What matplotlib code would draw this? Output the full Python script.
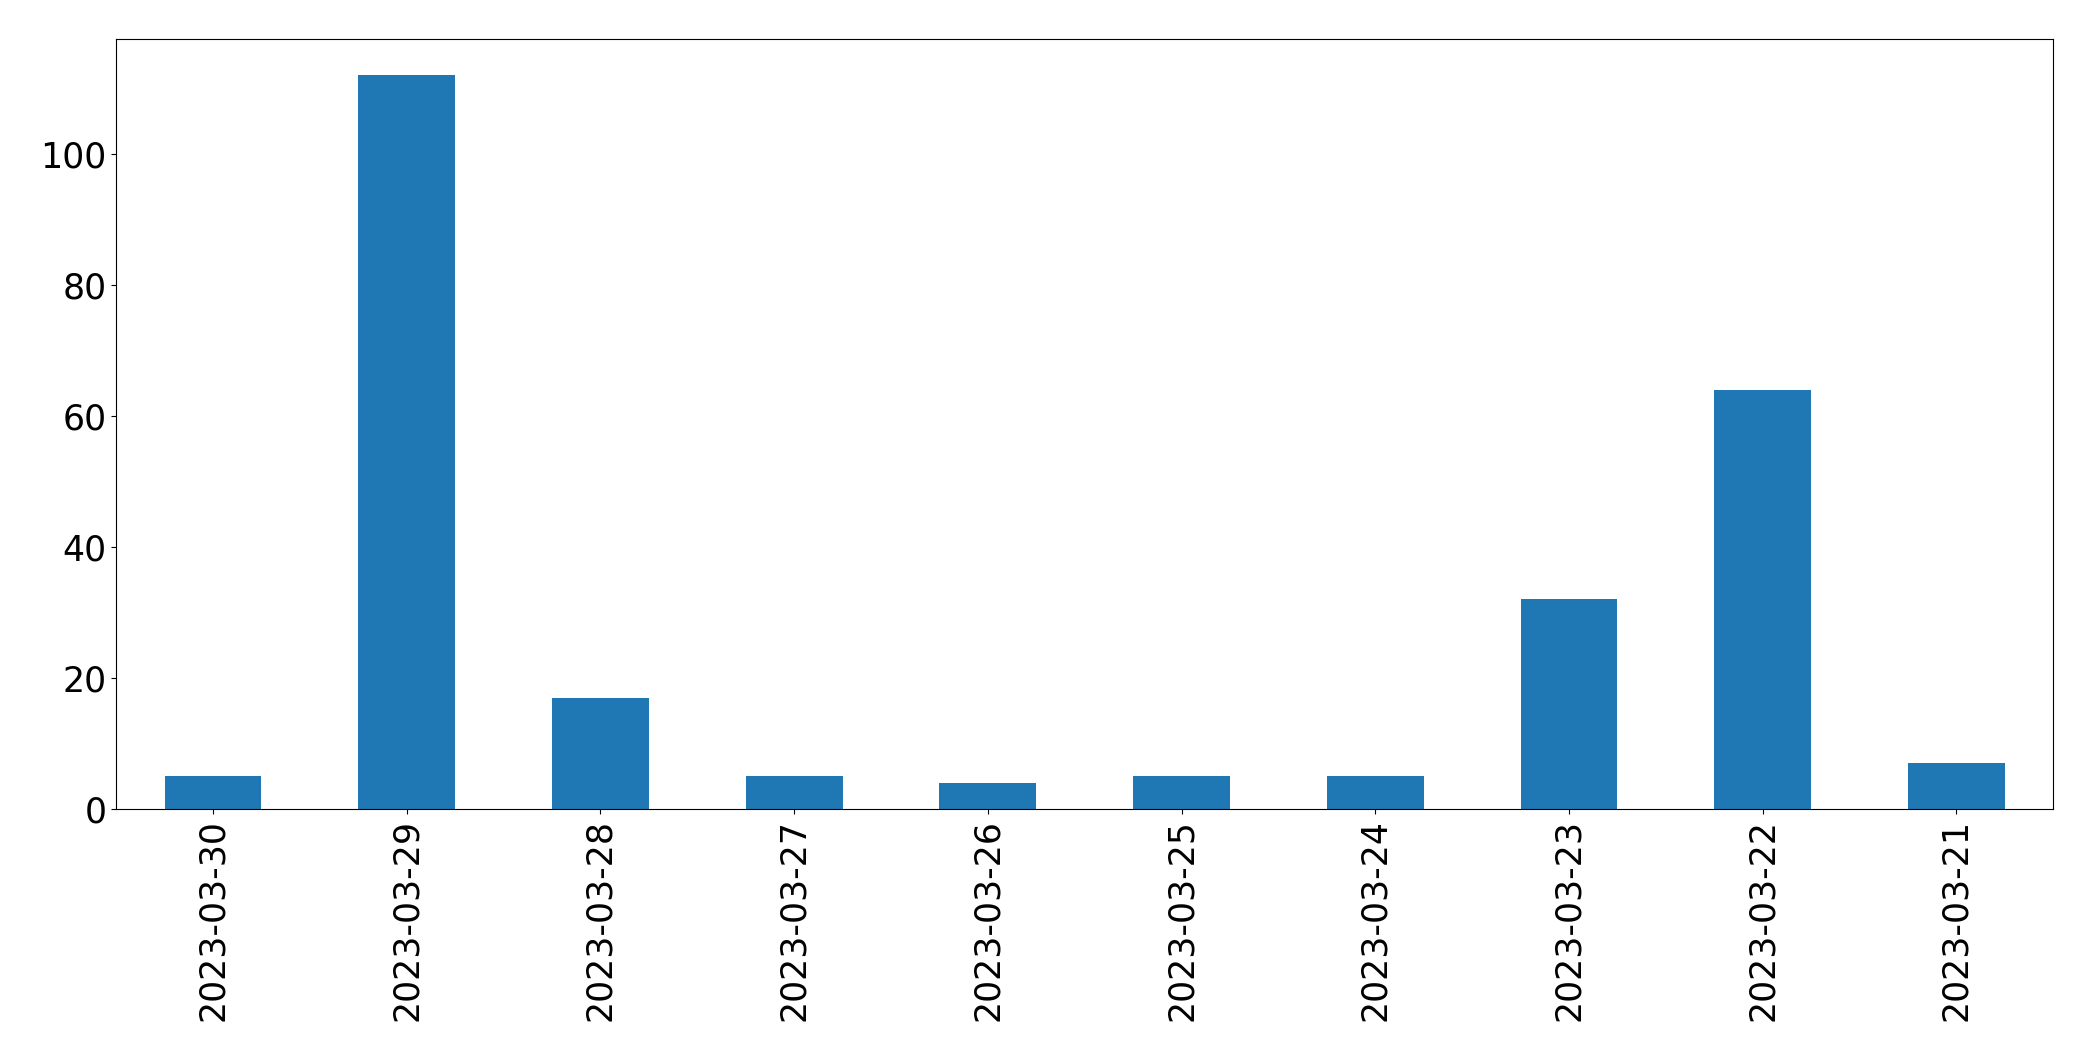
import matplotlib
matplotlib.use("Agg")
import matplotlib.pyplot as plt
import numpy as np

dates = ["2023-03-30", "2023-03-29", "2023-03-28", "2023-03-27", "2023-03-26",
         "2023-03-25", "2023-03-24", "2023-03-23", "2023-03-22", "2023-03-21"]
counts = [5, 112, 17, 5, 4, 5, 5, 32, 64, 7]

fig, ax = plt.subplots(figsize=(20.93, 10.61), dpi=100)
x = np.arange(len(dates))
ax.bar(x, counts, width=0.5, color="#1f77b4")
ax.set_xticks(x)
ax.set_xticklabels(dates, rotation=90)
ax.set_xlim(-0.5, len(dates) - 0.5)
ax.tick_params(labelsize=25)

fig.subplots_adjust(left=0.0555, right=0.981, top=0.9635, bottom=0.2375)
fig.savefig("out.png", dpi=100)
